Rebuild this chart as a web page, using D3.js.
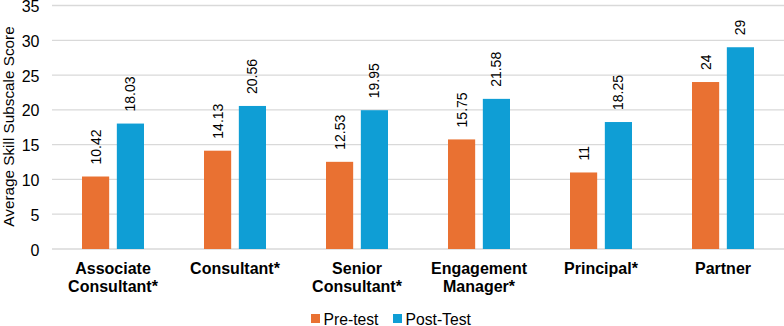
<!DOCTYPE html>
<html><head><meta charset="utf-8">
<script src="https://cdn.jsdelivr.net/npm/d3@7"></script>
<style>body{margin:0;background:#fff}svg{display:block;font-family:"Liberation Sans",Arial,sans-serif}</style>
</head><body><svg id="c" width="784" height="326"></svg>
<script>
const categories = [["Associate","Consultant*"],["Consultant*"],["Senior","Consultant*"],["Engagement","Manager*"],["Principal*"],["Partner"]];
const preTest = [10.42, 14.13, 12.53, 15.75, 11, 24];
const postTest = [18.03, 20.56, 19.95, 21.58, 18.25, 29];
const seriesNames = ["Pre-test", "Post-Test"];
const colors = ["#E97132", "#0F9ED5"];
const yTicks = [0,5,10,15,20,25,30,35];

const svg = d3.select("#c");
const pLeft = 52, pRight = 784, pTop = 5.5, pBottom = 249;
const x = d3.scaleBand().domain(categories.map((d,i)=>i)).range([pLeft,pRight]);
const x1 = d3.scaleBand().domain([0,1]).range([x.bandwidth()/2-31, x.bandwidth()/2+31]).paddingInner(0.22);
const y = d3.scaleLinear().domain([0,35]).range([pBottom, pTop]);

// gridlines
svg.append("g").selectAll("line").data(yTicks).join("line")
  .attr("x1", pLeft).attr("x2", pRight)
  .attr("y1", d=>y(d)).attr("y2", d=>y(d))
  .attr("stroke", "#d9d9d9").attr("stroke-width", 1.3);

// y axis labels
const yAxis = d3.axisLeft(y).tickValues(yTicks).tickSize(0).tickPadding(12.5);
const ga = svg.append("g").attr("transform", `translate(${pLeft},0)`).call(yAxis);
ga.select(".domain").remove();
ga.selectAll("text").attr("font-size", 16).attr("dy", "0.38em").attr("fill", "#000").attr("font-family", "Liberation Sans, Arial, sans-serif");

// y title
svg.append("text").attr("transform", `translate(14,126.5) rotate(-90)`)
  .attr("text-anchor","middle").attr("font-size",15.3).text("Average Skill Subscale Score");

const data = categories.map((c,i)=>({i, vals:[preTest[i], postTest[i]]}));
const groups = svg.append("g").selectAll("g").data(data).join("g")
  .attr("transform", d=>`translate(${x(d.i)},0)`);
groups.selectAll("rect").data(d=>d.vals.map((v,k)=>({v,k}))).join("rect")
  .attr("x", d=>x1(d.k)).attr("width", x1.bandwidth())
  .attr("y", d=>y(d.v)).attr("height", d=>y(0)-y(d.v))
  .attr("fill", d=>colors[d.k]);
groups.selectAll("text.val").data(d=>d.vals.map((v,k)=>({v,k}))).join("text")
  .attr("class","val")
  .attr("transform", d=>`translate(${x1(d.k)+x1.bandwidth()/2+5},${y(d.v)-12}) rotate(-90)`)
  .attr("font-size", 14).attr("text-anchor","start")
  .text(d=>String(d.v));

// category labels
const cl = svg.append("g").selectAll("text").data(categories).join("text")
  .attr("x", (d,i)=>x(i)+x.bandwidth()/2).attr("y", 273.5)
  .attr("text-anchor","middle").attr("font-size",16).attr("font-weight","bold");
cl.selectAll("tspan").data(d=>d).join("tspan")
  .attr("x", function(){return this.parentNode.getAttribute("x");})
  .attr("dy", (d,j)=>j===0?0:18).text(d=>d);

// legend
const lg = svg.append("g");
const lx = [311, 393];
seriesNames.forEach((s,k)=>{
  lg.append("rect").attr("x", lx[k]).attr("y", 314).attr("width", 9).attr("height", 9).attr("fill", colors[k]);
  lg.append("text").attr("x", lx[k]+12.5).attr("y", 324.5).attr("font-size", 15.7).text(s);
});
</script></body></html>
